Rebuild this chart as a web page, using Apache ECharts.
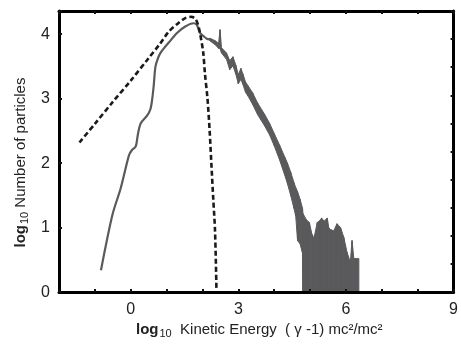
<!DOCTYPE html>
<html>
<head>
<meta charset="utf-8">
<script src="https://cdn.jsdelivr.net/npm/echarts@6/dist/echarts.min.js"></script>
<style>
  html, body { margin: 0; padding: 0; background: #fff; }
  #chart { width: 461px; height: 344px; }
</style>
</head>
<body>
<div id="chart"></div>
<script>
// x ticks every 1, labels only at these
const xLabels = [0, 3, 6, 9];
const yLabels = [0, 1, 2, 3, 4];

// dashed curve (thermal)
const dashX = [-1.43, -1.0, -0.5, 0.0, 0.5, 0.8, 1.06, 1.3, 1.52, 1.68, 1.8, 1.88, 1.93, 2.02, 2.07, 2.14, 2.2, 2.25, 2.3, 2.35, 2.39];
const dashY = [2.32, 2.61, 2.95, 3.28, 3.63, 3.84, 4.04, 4.16, 4.25, 4.27, 4.24, 4.14, 4.02, 3.72, 3.38, 3.0, 2.5, 1.97, 1.45, 0.95, 0.03];

// solid curve, smooth part
const solidX = [-0.83, -0.51, -0.28, -0.05, 0.03, 0.14, 0.2, 0.28, 0.46, 0.55, 0.6, 0.64, 0.69, 0.76, 0.83, 0.95, 1.06, 1.29, 1.52, 1.75, 1.84, 1.93, 2.03, 2.12, 2.2];
const solidY = [0.34, 1.2, 1.61, 2.12, 2.2, 2.26, 2.45, 2.62, 2.74, 2.84, 3.0, 3.2, 3.5, 3.63, 3.71, 3.8, 3.87, 4.02, 4.12, 4.17, 4.15, 4.02, 3.97, 3.93, 3.92];

// noisy part, lower / upper envelope of the band
const bandX = [2.2, 2.35, 2.45, 2.49, 2.53, 2.67, 2.76, 2.85, 2.93, 3.0, 3.07, 3.13, 3.2, 3.27, 3.4, 3.54, 3.73, 3.87, 4.0, 4.15, 4.29, 4.37, 4.46, 4.55, 4.6, 4.65, 4.72, 4.79, 4.8, 4.9, 4.98, 5.05, 5.11, 5.2, 5.29, 5.32, 5.39, 5.48, 5.52, 5.57, 5.66, 5.75, 5.85, 5.94, 6.03, 6.1, 6.12, 6.17, 6.22, 6.3, 6.36];
const bandLo = [3.9, 3.84, 3.78, 3.78, 3.71, 3.61, 3.45, 3.51, 3.38, 3.23, 3.3, 3.22, 3.1, 3.04, 2.91, 2.75, 2.58, 2.44, 2.27, 2.05, 1.82, 1.68, 1.5, 1.3, 1.18, 0.8, 0.75, 0.6, 0, 0, 0, 0, 0, 0, 0, 0, 0, 0, 0, 0, 0, 0, 0, 0, 0, 0, 0, 0, 0, 0, 0];
const bandHi = [3.94, 3.9, 3.86, 4.07, 3.79, 3.71, 3.59, 3.65, 3.52, 3.37, 3.47, 3.38, 3.26, 3.2, 3.09, 2.93, 2.76, 2.62, 2.46, 2.28, 2.1, 2.0, 1.86, 1.7, 1.62, 1.56, 1.44, 1.3, 1.22, 1.12, 1.08, 0.9, 0.84, 1.08, 1.12, 1.15, 1.1, 1.15, 1.0, 0.97, 0.95, 1.06, 1.0, 0.85, 0.62, 0.5, 0.45, 0.8, 0.52, 0.52, 0.52];

const zip = (xs, ys) => xs.map((x, i) => [x, ys[i]]);

const gray = '#5a5a5c';
const font = 'Liberation Sans, Arial, sans-serif';

const chart = echarts.init(document.getElementById('chart'));

const frameLine = { show: true, onZero: false, lineStyle: { color: '#000', width: 3 } };
const innerTick = { show: true, inside: true, length: 3, lineStyle: { color: '#111', width: 2 } };

const titleStyle = (pad) => ({
  fontSize: 15,
  fontFamily: font,
  color: '#222',
  padding: pad,
  rich: {
    b: { fontSize: 15, fontWeight: 'bold', fontFamily: font, color: '#222' },
    s: { fontSize: 11, fontFamily: font, color: '#222', padding: [8, 0, 0, 1] },
  },
});

// band drawn segment by segment between the two envelopes
function renderBand(params, api) {
  const i = params.dataIndex;
  if (i >= bandX.length - 1) return null;
  const pts = [
    api.coord([bandX[i], bandLo[i]]),
    api.coord([bandX[i + 1], bandLo[i + 1]]),
    api.coord([bandX[i + 1], bandHi[i + 1]]),
    api.coord([bandX[i], bandHi[i]]),
  ];
  return {
    type: 'polygon',
    shape: { points: pts },
    style: { fill: gray, stroke: gray, lineWidth: 1 },
  };
}

chart.setOption({
  animation: false,
  grid: { left: 59, right: 4, top: 11, bottom: 50, containLabel: false },
  xAxis: [
    {
      type: 'value',
      min: -2,
      max: 9,
      interval: 1,
      z: 10,
      axisLine: frameLine,
      axisTick: innerTick,
      splitLine: { show: false },
      axisLabel: {
        showMaxLabel: true,
        margin: 9,
        fontSize: 16,
        fontFamily: font,
        color: '#222',
        formatter: (v) => (xLabels.includes(v) ? String(v) : ''),
      },
      name: '{b|log}{s|10}  Kinetic Energy  ( \u03b3 -1) mc\u00b2/mc\u00b2',
      nameLocation: 'middle',
      nameGap: 24,
      nameTextStyle: titleStyle([0, 0, 0, 6]),
    },
    {
      type: 'value',
      position: 'top',
      min: -2,
      max: 9,
      interval: 1,
      z: 10,
      axisLine: frameLine,
      axisTick: innerTick,
      axisLabel: { show: false },
      splitLine: { show: false },
    },
  ],
  yAxis: [
    {
      type: 'value',
      min: 0,
      max: 4.36,
      interval: 1,
      z: 10,
      axisLine: frameLine,
      axisTick: innerTick,
      splitLine: { show: false },
      axisLabel: {
        margin: 9,
        fontSize: 16,
        fontFamily: font,
        color: '#222',
        formatter: (v) => (yLabels.includes(v) ? String(v) : ''),
      },
      name: '{b|log}{s|10} Number of particles',
      nameLocation: 'middle',
      nameGap: 27,
      nameTextStyle: titleStyle([0, 22, 0, 0]),
    },
    {
      type: 'value',
      position: 'right',
      min: 0,
      max: 10,
      interval: 1,
      z: 10,
      axisLine: frameLine,
      axisTick: innerTick,
      axisLabel: { show: false },
      splitLine: { show: false },
    },
  ],
  series: [
    {
      name: 'thermal',
      type: 'line',
      data: zip(dashX, dashY),
      showSymbol: false,
      smooth: 0.3,
      lineStyle: { color: '#1a1a1a', width: 2.6, type: [5, 3] },
      z: 4,
    },
    {
      name: 'simulation',
      type: 'line',
      data: zip(solidX, solidY),
      showSymbol: false,
      smooth: 0.3,
      lineStyle: { color: gray, width: 2.2 },
      z: 3,
    },
    {
      name: 'simulation band',
      type: 'custom',
      renderItem: renderBand,
      data: bandX.map((x, i) => [x, bandLo[i], bandHi[i]]),
      encode: { x: 0, y: [1, 2] },
      z: 3,
    },
  ],
});
</script>
</body>
</html>
